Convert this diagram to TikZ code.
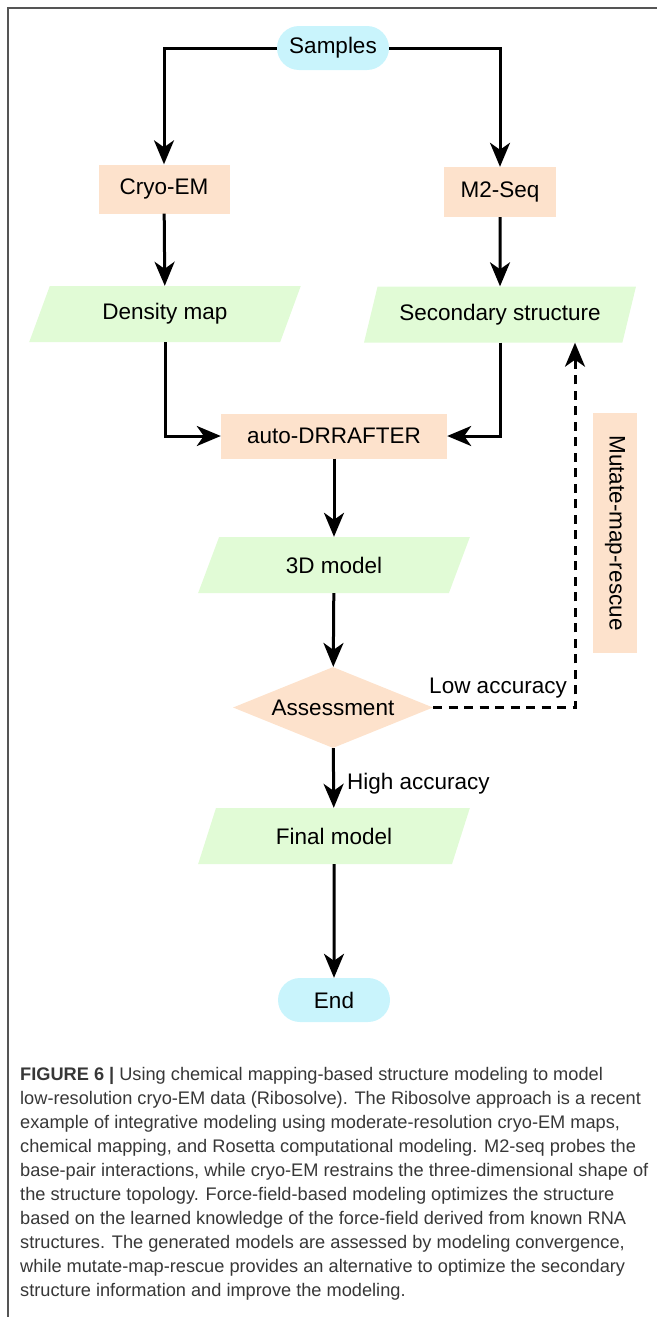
\documentclass[tikz,border=0pt]{standalone}
\usepackage{fontspec}
\setmainfont{Liberation Sans}
\usetikzlibrary{arrows.meta,shapes.geometric,positioning}

\definecolor{flowCyan}{RGB}{201,244,252}
\definecolor{flowPeach}{RGB}{253,226,204}
\definecolor{flowGreen}{RGB}{225,251,214}
\definecolor{frameGray}{RGB}{85,85,85}
\definecolor{captionGray}{RGB}{55,55,55}

\tikzset{
  terminal/.style={rectangle, rounded corners=22pt, fill=flowCyan, minimum width=112pt, minimum height=44pt, inner sep=0pt, font=\flowFont},
  process/.style={rectangle, fill=flowPeach, inner sep=0pt, font=\flowFont},
  dataio/.style={trapezium, trapezium left angle=62, trapezium right angle=118, trapezium stretches=true,
    fill=flowGreen, minimum width=272pt, minimum height=56pt, inner sep=0pt, font=\flowFont},
  decision/.style={diamond, aspect=2.47, fill=flowPeach, minimum width=200pt, minimum height=81pt, inner sep=0pt, font=\flowFont},
  flow/.style={line width=3pt, -{Stealth[length=24pt,width=20pt,inset=7pt]}},
  loopback/.style={flow, dash pattern=on 9pt off 6.5pt},
  edgelabel/.style={font=\flowFont, inner sep=0pt},
  captionline/.style={anchor=base west, inner sep=0pt, text=captionGray, font=\captionFont},
}

\begin{document}
\begin{tikzpicture}[x=1pt, y=-1pt]
% one unit = one pixel of the 657 x 1317 figure, y grows downwards
\providecommand{\flowFont}{\fontsize{22.5}{27}\selectfont}
\providecommand{\captionFont}{\fontsize{18.2}{24}\selectfont}
\providecommand{\frameLineWidth}{1.5pt}
\useasboundingbox (0,0) rectangle (657,1317);
% Page frame (top and left edge only)
\draw[frameGray, line width=\frameLineWidth] (8,1317) -- (8,8) -- (657,8);

% Nodes
\node[terminal] (samples) at (333,48) {Samples};
\node[process, minimum width=131pt, minimum height=49pt] (cryo) at (164,189) {Cryo-EM};
\node[process, minimum width=112pt, minimum height=50pt] (m2seq) at (500,192) {M2-Seq};
\node[dataio] (dmap) at (165,314) {Density map};
\node[dataio] (sstruct) at (500,314.5) {Secondary structure};
\node[process, minimum width=226pt, minimum height=45pt] (drrafter) at (334,436) {auto-DRRAFTER};
\node[dataio] (model3d) at (334,565) {3D model};
\node[decision] (assess) at (333,707.5) {Assessment};
\node[dataio] (final) at (334,836) {Final model};
\node[terminal] (end) at (334,1000) {End};
\node[process, minimum width=44pt, minimum height=240pt] (mutate) at (615,533) {};
\node[font=\flowFont, rotate=-90, inner sep=0pt] (mutatetext) at (mutate.center) {Mutate-map-rescue};

% Connectors
\draw[flow] (samples.west) -| (cryo.north);
\draw[flow] (samples.east) -| (m2seq.north);
\draw[flow] (cryo) -- (dmap);
\draw[flow] (m2seq) -- (sstruct);
\draw[flow] (dmap.south) |- (drrafter.west);
\draw[flow] (sstruct.south) |- (drrafter.east);
\draw[flow] (drrafter) -- (model3d);
\draw[flow] (model3d) -- (assess);
\draw[flow] (assess) -- (final);
\draw[flow] (final) -- (end);
% Low accuracy goes back to the secondary structure
\coordinate (lowturn) at (575,707.5);
\draw[loopback] (assess.east) -- (lowturn) -- (lowturn |- sstruct.south);
\node[edgelabel, anchor=base east] (lowlabel) at (567,693) {Low accuracy};
\node[edgelabel, anchor=west] (highlabel) at (347,784) {High accuracy};

% Caption
\node[captionline] (cap1) at (20,1080) {\textbf{FIGURE 6 |} Using chemical mapping-based structure modeling to model};
\node[captionline] (cap2) at (20,1104) {low-resolution cryo-EM data (Ribosolve). The Ribosolve approach is a recent};
\node[captionline] (cap3) at (20,1128) {example of integrative modeling using moderate-resolution cryo-EM maps,};
\node[captionline] (cap4) at (20,1152) {chemical mapping, and Rosetta computational modeling. M2-seq probes the};
\node[captionline] (cap5) at (20,1176) {base-pair interactions, while cryo-EM restrains the three-dimensional shape of};
\node[captionline] (cap6) at (20,1200) {the structure topology. Force-field-based modeling optimizes the structure};
\node[captionline] (cap7) at (20,1224) {based on the learned knowledge of the force-field derived from known RNA};
\node[captionline] (cap8) at (20,1248) {structures. The generated models are assessed by modeling convergence,};
\node[captionline] (cap9) at (20,1272) {while mutate-map-rescue provides an alternative to optimize the secondary};
\node[captionline] (cap10) at (20,1296) {structure information and improve the modeling.};
\end{tikzpicture}
\end{document}
